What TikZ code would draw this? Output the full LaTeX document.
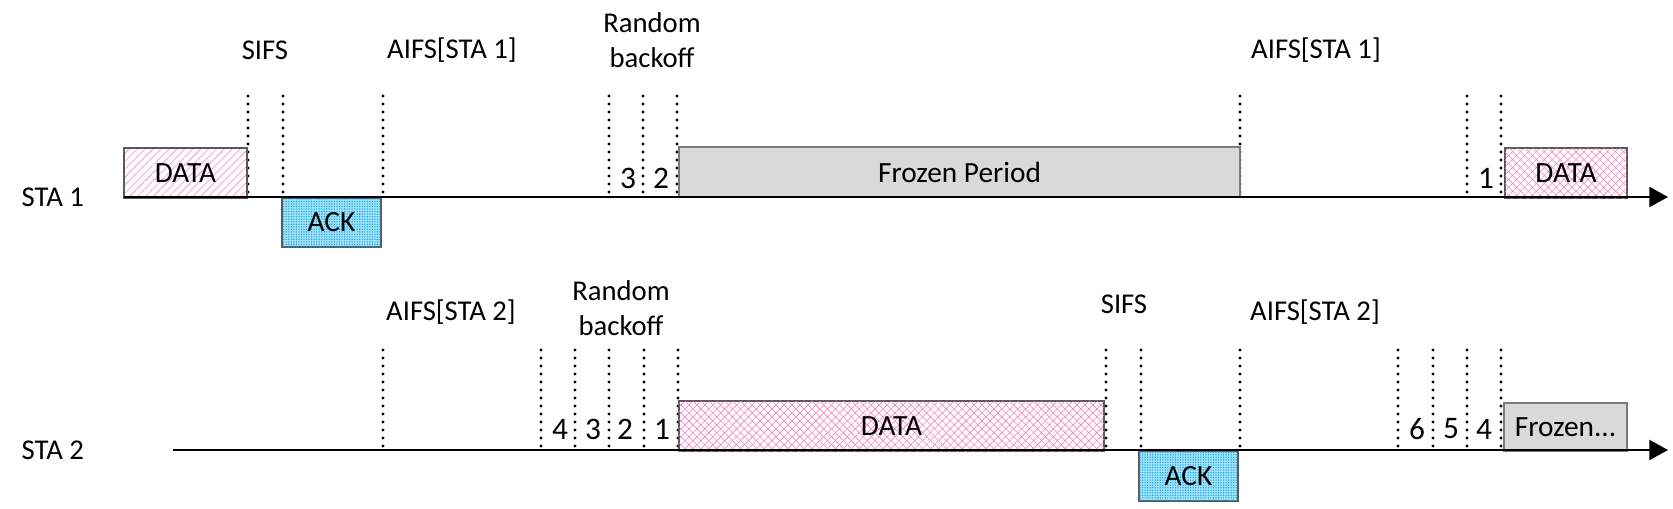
\documentclass[tikz,border=0pt]{standalone}
\usepackage{fontspec}
\setmainfont{Carlito}
\usetikzlibrary{arrows.meta,patterns.meta,fit}
\definecolor{pinkln}{RGB}{245,130,195}
\definecolor{ackcyan}{RGB}{0,160,225}
\definecolor{ackbg}{RGB}{160,225,248}
\definecolor{frozen}{RGB}{217,217,217}
\definecolor{bord}{RGB}{90,90,90}
\tikzset{
 x=0.75pt, y=-0.75pt,
 lbl/.style={font=\fontsize{21.5}{26}\selectfont, align=center},
 num/.style={font=\fontsize{23.5}{26}\selectfont},
 boxtext/.style={font=\fontsize{22}{24}\selectfont, inner sep=0pt},
 box/.style={draw=bord, line width=0.8pt, inner sep=0pt},
 hatchbox/.style={box, pattern={Lines[angle=45,distance=4.2pt,line width=0.45pt]}, pattern color=pinkln},
 crossbox/.style={box, pattern={Lines[angle=45,distance=4.2pt,line width=0.45pt]}, pattern color=pinkln,
   postaction={pattern={Lines[angle=-45,distance=4.2pt,line width=0.45pt]}, pattern color=pinkln}},
 ackbox/.style={box, fill=ackbg, postaction={pattern={Dots[distance=1.9pt,radius=0.5pt]}, pattern color=ackcyan}},
 frozenbox/.style={box, fill=frozen, draw=bord!80},
 dotline/.style={line width=2.5pt, dash pattern=on 0pt off 6pt, line cap=round},
 axis/.style={line width=1.6pt, -{Triangle[length=14pt,width=15pt]}},
}
\begin{document}
\begin{tikzpicture}
\useasboundingbox (0,0) rectangle (1673,508);
% STA labels
\node[lbl, anchor=west] (sta1) at (17,197) {STA 1};
\node[lbl, anchor=west] (sta2) at (17,450) {STA 2};
% dotted markers STA1
\foreach \x in {248,283,383,609,643,677,1240,1467,1501}
  \draw[dotline] (\x,96) -- (\x,194);
% dotted markers STA2
\foreach \x in {383,541,575,609,644,678,1106,1141,1240,1398,1433,1467,1501}
  \draw[dotline] (\x,350) -- (\x,447);
% boxes STA1
\node[hatchbox, fit={(124,148)(247,198)}] (d1) {};
\node[ackbox, fit={(282,198)(381,247)}] (ack1) {};
\node[frozenbox, fit={(679,147)(1240,197)}] (fp) {};
\node[crossbox, fit={(1505,148)(1627,198)}] (d2) {};
% boxes STA2
\node[crossbox, fit={(679,401)(1104,451)}] (d3) {};
\node[ackbox, fit={(1139,451)(1238,501)}] (ack2) {};
\node[frozenbox, fit={(1504,403)(1627,451)}] (fz) {};
% box texts
\node[boxtext] (d1t) at (d1.center) {DATA};
\node[boxtext] (ack1t) at (ack1.center) {ACK};
\node[boxtext] (fpt) at (fp.center) {Frozen Period};
\node[boxtext] (d2t) at (d2.center) {DATA};
\node[boxtext] (d3t) at (d3.center) {DATA};
\node[boxtext] (ack2t) at (ack2.center) {ACK};
\node[boxtext] (fzt) at (fz.center) {Frozen...};
% axes
\coordinate (a1s) at (124,197);
\coordinate (a1e) at (1668,197);
\coordinate (a2s) at (173,450);
\coordinate (a2e) at (1668,450);
\draw[axis] (a1s) -- (a1e);
\draw[axis] (a2s) -- (a2e);
% top labels STA1
\node[lbl] (sifs1) at (265,50) {SIFS};
\node[lbl] (aifs1a) at (452,50) {AIFS[STA 1]};
\node[lbl] (rb1) at (652,40) {Random\\backoff};
\node[lbl] (aifs1b) at (1316,50) {AIFS[STA 1]};
% top labels STA2
\node[lbl] (aifs2a) at (451,312) {AIFS[STA 2]};
\node[lbl] (rb2) at (621,308) {Random\\backoff};
\node[lbl] (sifs2) at (1124,304) {SIFS};
\node[lbl] (aifs2b) at (1315,312) {AIFS[STA 2]};
% counters STA1
\node[num] (n13) at (628,178) {3};
\node[num] (n12) at (661,178) {2};
\node[num] (n11) at (1486,178) {1};
% counters STA2
\node[num] (n24) at (560,429) {4};
\node[num] (n23) at (593,429) {3};
\node[num] (n22) at (625,429) {2};
\node[num] (n21) at (662,429) {1};
\node[num] (n26) at (1417,429) {6};
\node[num] (n25) at (1451,429) {5};
\node[num] (n24b) at (1484,429) {4};
\end{tikzpicture}
\end{document}
